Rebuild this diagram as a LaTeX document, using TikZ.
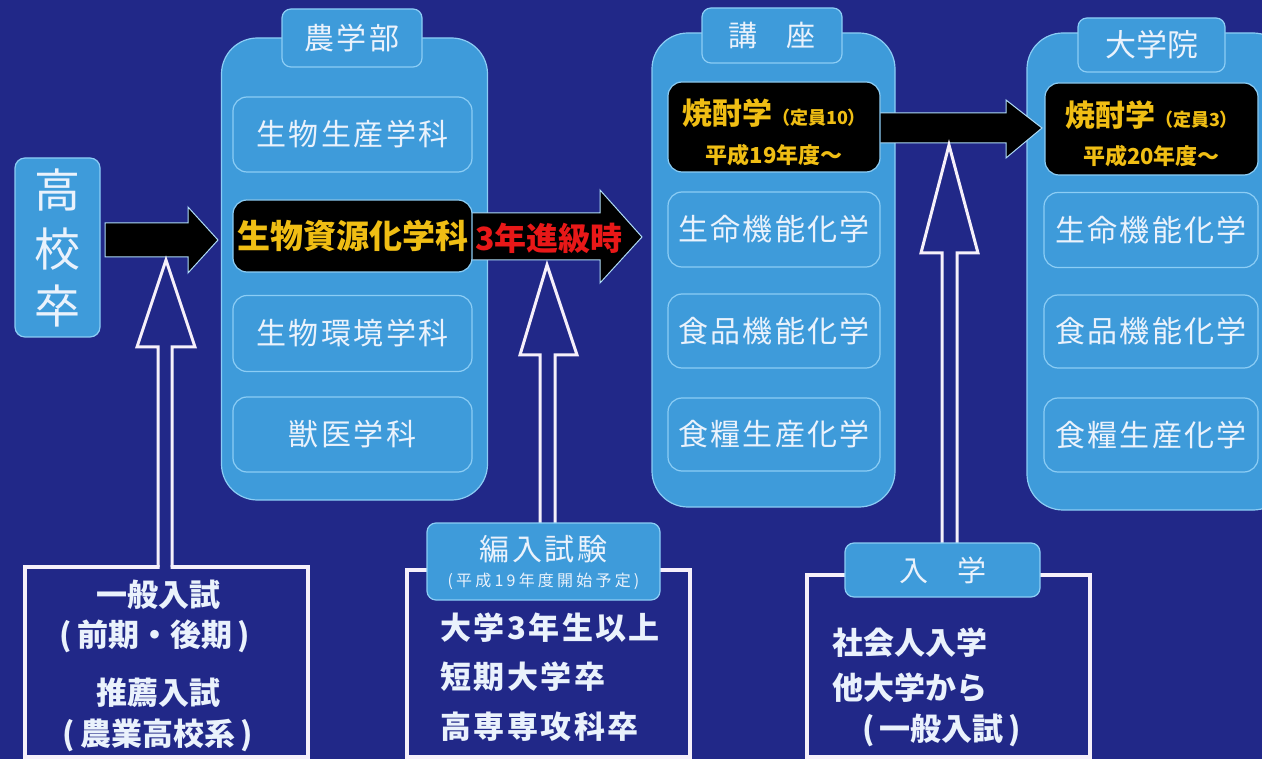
\documentclass[tikz,border=0pt]{standalone}
\usepackage{fontspec}
\setmainfont{Noto Sans CJK JP}
\newfontfamily\jp{Noto Sans CJK JP}
\newfontfamily\jpls[LetterSpace=8]{Noto Sans CJK JP}
\newfontfamily\jpwide[LetterSpace=20]{Noto Sans CJK JP}
\usetikzlibrary{calc}
\definecolor{navy}{RGB}{33,40,136}
\definecolor{lblue}{RGB}{62,155,218}
\definecolor{lborder}{RGB}{140,205,245}
\definecolor{wtext}{RGB}{234,242,252}
\definecolor{wline}{RGB}{246,240,250}
\definecolor{ytext}{RGB}{240,190,20}
\definecolor{rtext}{RGB}{232,24,24}
\newcommand\fsz[1]{\fontsize{#1}{#1}\selectfont}
\newcommand\hollowarrow[8]{% stemL stemR headL headR base tipx tipy bottom
  \fill[navy] ({#1+1.5},{#8+3}) -- ({#1+1.5},#5) -- (#3,#5) -- (#6,#7) -- (#4,#5) -- ({#2-1.5},#5) -- ({#2-1.5},{#8+3}) -- cycle;
  \draw[hollow] (#1,#8) -- (#1,#5) -- (#3,#5) -- (#6,#7) -- (#4,#5) -- (#2,#5) -- (#2,#8);
}
\begin{document}
\begin{tikzpicture}[x=1pt,y=-1pt,
  contbox/.style={draw=lborder, line width=1.2pt, fill=lblue, rounded corners=36pt, inner sep=0pt},
  tabbox/.style={draw=lborder, line width=1.2pt, fill=lblue, rounded corners=9pt, inner sep=0pt, text=wtext},
  lbox/.style={draw=lborder, line width=1.2pt, fill=lblue, rounded corners=14pt, inner sep=0pt, text=wtext, font=\jpls\fsz{30}},
  hbox/.style={draw=lborder, line width=1.2pt, fill=black, rounded corners=14pt, inner sep=0pt},
  fat/.style={fill=black, draw=lborder!70!white, line width=1pt, line join=miter},
  hollow/.style={draw=wline, line width=3pt, line join=miter},
  wbox/.style={draw=wline, line width=4pt, inner sep=0pt},
  btxt/.style={text=wtext, inner sep=0pt, font=\jp\bfseries\fsz{31}},
  ytxt/.style={text=ytext, inner sep=0pt},
]
\useasboundingbox (0,0) rectangle (1262,759);
\clip (0,0) rectangle (1262,759);
\fill[navy] (0,0) rectangle (1262,759);

% containers
\node[contbox, minimum width=266, minimum height=462] (fac) at (354.5,269) {};
\node[contbox, minimum width=243, minimum height=474] (koza) at (773.5,270) {};
\node[contbox, minimum width=262, minimum height=477] (grad) at (1158,271.5) {};

% tabs
\node[tabbox, minimum width=140, minimum height=58, font=\jpls\fsz{30}] (factab) at (352,38) {農学部};
\node[tabbox, minimum width=140, minimum height=55, font=\jp\fsz{29}] (kozatab) at (772,35.5) {講　座};
\node[tabbox, minimum width=147, minimum height=54, font=\jp\fsz{31}] (gradtab) at (1151.5,45) {大学院};

% high school
\node[lbox, rounded corners=10pt, minimum width=85, minimum height=179] (hs) at (57.5,247.5) {};
\node[text=wtext, font=\jp\fsz{46}, inner sep=0pt] (hs1) at (57.5,190) {高};
\node[text=wtext, font=\jp\fsz{46}, inner sep=0pt] (hs2) at (57.5,249) {校};
\node[text=wtext, font=\jp\fsz{46}, inner sep=0pt] (hs3) at (57.5,306) {卒};

% fat black arrows
\draw[fat] (105,223) -- (188,223) -- (188,207) -- (218,240) -- (188,273) -- (188,257) -- (105,257) -- cycle;
\draw[fat] (466,213) -- (600,213) -- (600,190) -- (642,237) -- (600,283) -- (600,260) -- (466,260) -- cycle;
\draw[fat] (876,113) -- (1006,113) -- (1006,100) -- (1042,128) -- (1006,158) -- (1006,143) -- (876,143) -- cycle;

% faculty items
\node[lbox, minimum width=239, minimum height=75] (f1) at (352.5,134.5) {生物生産学科};
\node[hbox, minimum width=239, minimum height=72, font=\jp\bfseries\fsz{33}, text=ytext] (f2) at (352.5,236) {生物資源化学科};
\node[lbox, minimum width=239, minimum height=76] (f3) at (352.5,333.5) {生物環境学科};
\node[lbox, minimum width=239, minimum height=75] (f4) at (352.5,434.5) {獣医学科};
\node[text=rtext, font=\jp\bfseries\fsz{32}, inner sep=0pt] (adv) at (549,238) {3年進級時};

% koza items
\node[hbox, minimum width=212, minimum height=90] (k1) at (774,127) {};
\node[ytxt, font=\jp\bfseries\fsz{30}] (k1a) at (774,113) {焼酎学{\fsz{18}（定員10）}};
\node[ytxt, font=\jp\bfseries\fsz{22}] (k1b) at (774,155) {平成19年度～};
\node[lbox, minimum width=212, minimum height=75] (k2) at (774,229.5) {生命機能化学};
\node[lbox, minimum width=212, minimum height=74] (k3) at (774,331) {食品機能化学};
\node[lbox, minimum width=212, minimum height=73] (k4) at (774,434.5) {食糧生産化学};

% graduate items
\node[hbox, minimum width=213, minimum height=92] (g1) at (1151.5,129) {};
\node[ytxt, font=\jp\bfseries\fsz{30}] (g1a) at (1151.5,115) {焼酎学{\fsz{18}（定員3）}};
\node[ytxt, font=\jp\bfseries\fsz{22}] (g1b) at (1151.5,156) {平成20年度～};
\node[lbox, minimum width=214, minimum height=75] (g2) at (1151,230) {生命機能化学};
\node[lbox, minimum width=214, minimum height=73] (g3) at (1151,331.5) {食品機能化学};
\node[lbox, minimum width=214, minimum height=74] (g4) at (1151,435) {食糧生産化学};

% bottom boxes
\node[wbox, minimum width=283, minimum height=190] (b1) at (166.5,662) {};
\node[wbox, minimum width=283, minimum height=187] (b2) at (548.5,663.5) {};
\node[wbox, minimum width=283, minimum height=182] (b3) at (948.5,666) {};

% hollow arrows
\hollowarrow{158}{172}{137}{195}{347}{166}{260}{567}
\hollowarrow{540}{555}{520}{577}{355}{547}{265}{525}
\hollowarrow{942}{957}{921}{978}{253}{949}{145}{545}

% tabs of bottom boxes
\node[tabbox, minimum width=233, minimum height=77] (b2tab) at (543.5,561.5) {};
\node[text=wtext, font=\jpls\fsz{30}, inner sep=0pt] (b2t1) at (543.5,549) {編入試験};
\node[text=wtext, font=\jpwide\fsz{16}, inner sep=0pt] (b2t2) at (543.5,581) {(平成19年度開始予定)};
\node[tabbox, minimum width=195, minimum height=54, font=\jp\fsz{29}] (b3tab) at (942.5,570) {入　学};

% bottom texts
\node[btxt] (t11) at (158,595) {一般入試};
\node[btxt] (t12) at (155,636) {(\,前期・後期\,)};
\node[btxt] (t13) at (158,693) {推薦入試};
\node[btxt] (t14) at (158,735) {(\,農業高校系\,)};

\node[btxt, font=\jpls\bfseries\fsz{31}, anchor=west] (t21) at (440,628) {大学3年生以上};
\node[btxt, font=\jpls\bfseries\fsz{31}, anchor=west] (t22) at (440,677) {短期大学卒};
\node[btxt, font=\jpls\bfseries\fsz{31}, anchor=west] (t23) at (440,727) {高専専攻科卒};

\node[btxt, anchor=west] (t31) at (832,643) {社会人入学};
\node[btxt, anchor=west] (t32) at (832,688) {他大学から};
\node[btxt, anchor=west] (t33) at (862,730) {(\,一般入試\,)};
\end{tikzpicture}
\end{document}
